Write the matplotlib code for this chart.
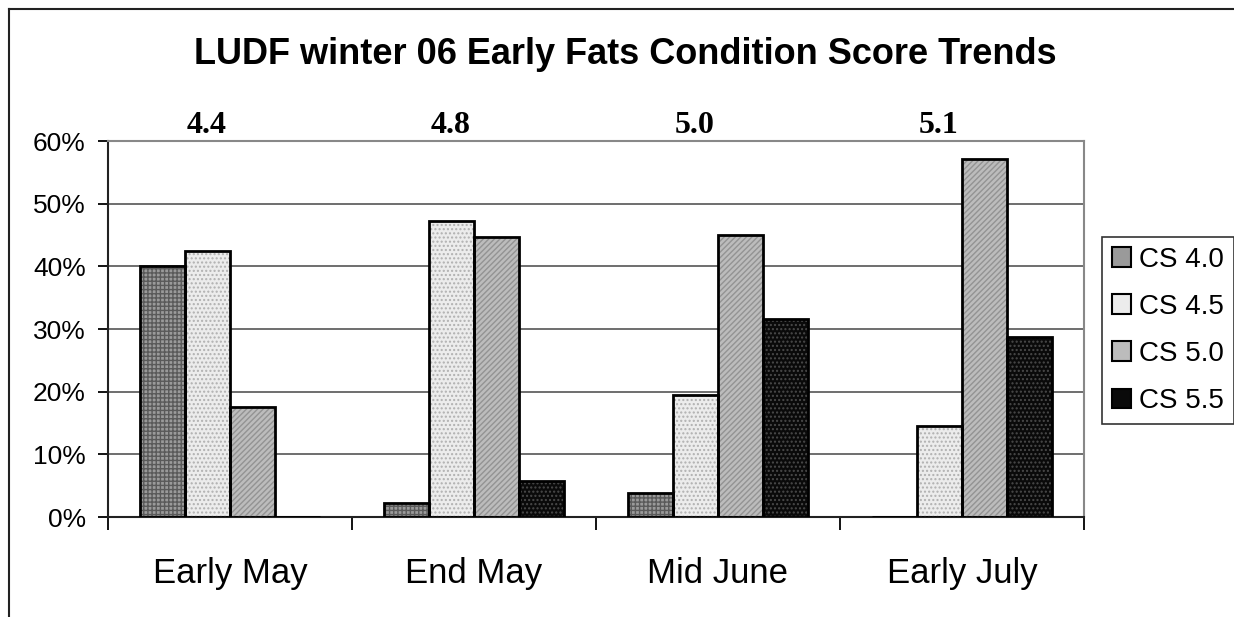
import numpy as np
import matplotlib.pyplot as plt
from matplotlib.lines import Line2D
from matplotlib.patches import Patch

categories = ['Early May', 'End May', 'Mid June', 'Early July']
series = ['CS 4.0', 'CS 4.5', 'CS 5.0', 'CS 5.5']
cs40 = [40.0, 2.2, 3.8, 0.0]
cs45 = [42.4, 47.2, 19.5, 14.5]
cs50 = [17.5, 44.7, 45.0, 57.1]
cs55 = [0.0, 5.8, 31.6, 28.8]
avg_labels = ['4.4', '4.8', '5.0', '5.1']

# face colour, hatch, hatch colour for each series
styles = [
    ('#9a9a9a', '++++', '#5a5a5a'),
    ('#ececec', '....', '#b0b0b0'),
    ('#bcbcbc', '//////', '#939393'),
    ('#0a0a0a', '....', '#4a4a4a'),
]

sans = ['Liberation Sans', 'DejaVu Sans']
serif = ['Liberation Serif', 'DejaVu Serif']

fig = plt.figure(figsize=(12.34, 6.17), dpi=100)
ax = fig.add_axes([0.0875, 0.162, 0.7909, 0.6094])

x = np.arange(len(categories))
w = 0.184
values = [cs40, cs45, cs50, cs55]
for k, (vals, (fc, hatch, hc)) in enumerate(zip(values, styles)):
    pos = x + (k - 1.5) * w
    v = np.array(vals) / 100
    ax.bar(pos, v, width=w, color=fc, edgecolor='none', zorder=2)
    ax.bar(pos, v, width=w, color='none', edgecolor=hc, hatch=hatch,
           linewidth=0, zorder=3)
    ax.bar(pos, v, width=w, color='none', edgecolor='black',
           linewidth=2, zorder=4)

ax.set_xlim(-0.5, len(categories) - 0.5)
ax.set_ylim(0, 0.6)
ax.set_yticks(np.arange(0, 0.61, 0.1))
ax.set_yticklabels([f'{int(round(t * 100))}%' for t in np.arange(0, 0.61, 0.1)],
                   fontsize=19, family=sans)
ax.yaxis.grid(True, color='#555555', linewidth=1.2, zorder=0)
ax.set_axisbelow(True)

ax.set_xticks(x)
ax.set_xticklabels(categories, fontsize=25, family=sans)
ax.set_xticks(np.arange(-0.5, len(categories)), minor=True)
ax.tick_params(axis='x', which='major', length=0, pad=29)
ax.tick_params(axis='x', which='minor', length=9, width=1.3, direction='out')
ax.tick_params(axis='y', length=7, width=1.3, pad=9)

for side in ['top', 'right']:
    ax.spines[side].set_color('#888888')
    ax.spines[side].set_linewidth(1.5)
for side in ['left', 'bottom']:
    ax.spines[side].set_color('#222222')
    ax.spines[side].set_linewidth(1.5)

for i, lab in enumerate(avg_labels):
    ax.text(i - 0.095, 0.625, lab, ha='center', va='center', fontsize=23,
            fontweight='bold', family=serif)

fig.text(0.5065, 0.912, 'LUDF winter 06 Early Fats Condition Score Trends',
         ha='center', va='center', fontsize=26, fontweight='bold', family=sans)

handles = [Patch(facecolor=fc, edgecolor='black', hatch=None, linewidth=1.5)
           for fc, _, _ in styles]
leg = fig.legend(handles, series, loc='upper left',
                 bbox_to_anchor=(0.893, 0.616), prop={'family': sans, 'size': 20},
                 frameon=True, fancybox=False, edgecolor='black',
                 handlelength=0.7, handleheight=0.7, handletextpad=0.3,
                 labelspacing=0.76, borderpad=0.35, borderaxespad=0)
leg.get_frame().set_linewidth(1.2)

# outer chart-area frame (cut off at right and bottom)
y0 = 1 - 9 / 617
x0 = 9 / 1234
fig.add_artist(Line2D([x0, 1.0], [y0, y0], transform=fig.transFigure,
                      color='#222222', linewidth=1.5))
fig.add_artist(Line2D([x0, x0], [0.0, y0], transform=fig.transFigure,
                      color='#222222', linewidth=1.5))

fig.savefig('out.png', dpi=100)
